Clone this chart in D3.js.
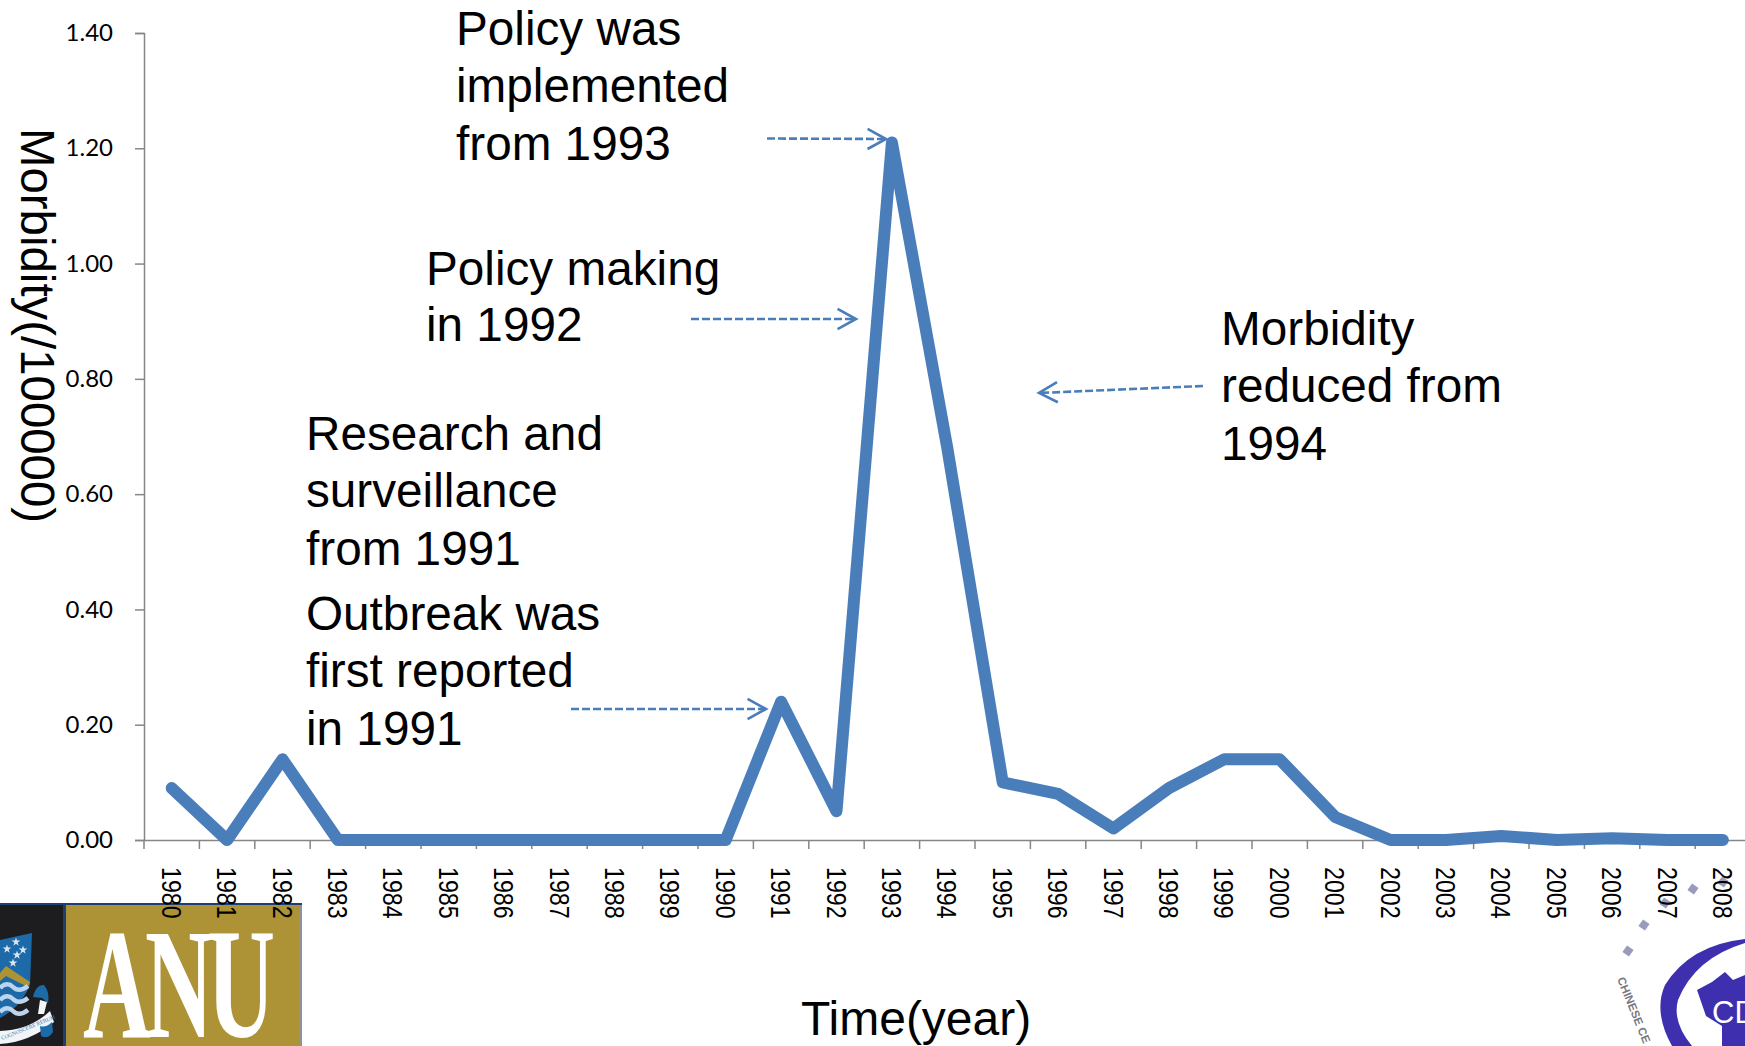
<!DOCTYPE html>
<html>
<head>
<meta charset="utf-8">
<script src="https://cdn.jsdelivr.net/npm/d3@7"></script>
<style>
  html, body { margin: 0; padding: 0; background: #fff; overflow: hidden; }
  svg { display: block; }
  text { fill: #000; }
  .note { font-family: "Liberation Sans", Arial, sans-serif; font-size: 47.7px; }
</style>
</head>
<body>
<div id="viz"></div>
<script>
var years = ["1980","1981","1982","1983","1984","1985","1986","1987","1988","1989","1990","1991","1992","1993","1994","1995","1996","1997","1998","1999","2000","2001","2002","2003","2004","2005","2006","2007","2008"];
var morbidity = [0.09,0,0.14,0,0,0,0,0,0,0,0,0.24,0.05,1.21,0.68,0.10,0.08,0.02,0.09,0.14,0.14,0.04,0,0,0.007,0,0.003,0,0];
var yTicks = [0,0.2,0.4,0.6,0.8,1.0,1.2,1.4];
var noteLines = [
    ["Policy was","implemented","from 1993"],
    ["Policy making","in 1992"],
    ["Research and","surveillance","from 1991"],
    ["Outbreak was","first reported","in 1991"],
    ["Morbidity","reduced from","1994"]
];

var width = 1745, height = 1046,
    blue = "#4a7ebb",
    gray = "#868686";

var svg = d3.select("#viz").append("svg")
    .attr("width", width)
    .attr("height", height);

// logos sit under the chart, year labels run over them
drawAnu(svg.append("g"));
drawCdc(svg.append("g"));

var x = d3.scaleBand().domain(years).range([144, 144 + 29 * 55.4]);
var y = d3.scaleLinear().domain([0, 1.4]).range([840, 33]);

var yAxis = d3.axisLeft(y).tickValues(yTicks).tickSize(9).tickPadding(22).tickSizeOuter(9)
    .tickFormat(d3.format(".2f"));
var xAxis = d3.axisBottom(x).tickSize(9).tickSizeOuter(0);

var yG = svg.append("g").attr("transform", "translate(144,0)").call(yAxis);
yG.selectAll("path,line").attr("stroke", gray).attr("stroke-width", 1.5);
yG.selectAll("text")
    .style("font-family", "Lato, sans-serif")
    .style("font-size", "24px")
    .style("fill", "#000");

var xG = svg.append("g").attr("transform", "translate(0,840)").call(xAxis);
xG.selectAll("path,line").attr("stroke", gray).attr("stroke-width", 1.5);
// ticks go between the years, like the spreadsheet chart
xG.selectAll(".tick line").attr("x1", -x.step() / 2).attr("x2", -x.step() / 2);
xG.selectAll(".tick text")
    .attr("text-anchor", "start")
    .attr("dy", null)
    .attr("y", null)
    .attr("transform", "translate(-10,27) rotate(90) scale(1,1.18)")
    .style("font-family", "'Liberation Sans', Arial, sans-serif")
    .style("font-size", "23.2px")
    .style("fill", "#000");

var line = d3.line()
    .x(function(d, i) { return x(years[i]) + x.bandwidth() / 2; })
    .y(function(d) { return y(d); });

svg.append("path")
    .datum(morbidity)
    .attr("d", line)
    .attr("fill", "none")
    .attr("stroke", blue)
    .attr("stroke-width", 12)
    .attr("stroke-linejoin", "round")
    .attr("stroke-linecap", "round");

// axis titles
svg.append("text").attr("class", "note")
    .attr("transform", "translate(21,128) rotate(90)")
    .style("font-size", "47.4px")
    .text("Morbidity(/100000)");
svg.append("text").attr("class", "note")
    .attr("x", 801).attr("y", 1035)
    .style("font-size", "48px")
    .text("Time(year)");

// annotations
var noteX = [456, 426, 306, 306, 1221],
    noteY = [44.5, 285, 449.5, 629.5, 344.5],
    noteGap = [57.5, 56, 57.5, 57.5, 57.5];

noteLines.forEach(function(lines, n) {
    svg.append("g").selectAll("text")
        .data(lines)
        .enter().append("text")
        .attr("class", "note")
        .attr("x", noteX[n])
        .attr("y", function(d, i) { return noteY[n] + i * noteGap[n]; })
        .text(function(d) { return d; });
});

var arrows = [
    [767, 138.5, 886, 139],
    [691, 319, 856, 319],
    [1203, 386, 1039, 393],
    [571, 709, 766, 709]
];
arrows.forEach(function(a) {
    var ang = Math.atan2(a[3] - a[1], a[2] - a[0]), len = 21, spread = 0.5;
    svg.append("line")
        .attr("x1", a[0]).attr("y1", a[1]).attr("x2", a[2]).attr("y2", a[3])
        .attr("stroke", blue).attr("stroke-width", 2.6)
        .attr("stroke-dasharray", "8,3");
    svg.append("path")
        .attr("d", "M" + (a[2] - len * Math.cos(ang - spread)) + "," + (a[3] - len * Math.sin(ang - spread))
            + "L" + a[2] + "," + a[3]
            + "L" + (a[2] - len * Math.cos(ang + spread)) + "," + (a[3] - len * Math.sin(ang + spread)))
        .attr("fill", "none")
        .attr("stroke", blue).attr("stroke-width", 2.6);
});

function drawAnu(g) {
    g.append("rect").attr("x", 0).attr("y", 903).attr("width", 302).attr("height", 143).attr("fill", "#1f3f73");
    g.append("rect").attr("x", 0).attr("y", 905).attr("width", 63).attr("height", 141).attr("fill", "#1d1d1f");
    g.append("rect").attr("x", 66).attr("y", 905).attr("width", 234).attr("height", 141).attr("fill", "#ae9236");
    g.append("rect").attr("x", 300).attr("y", 905).attr("width", 2).attr("height", 141).attr("fill", "#8d939c");
    g.append("text")
        .attr("transform", "translate(83,1037) scale(0.6,1)")
        .style("font-family", "'Liberation Serif', serif")
        .style("font-size", "157px")
        .style("font-weight", "bold")
        .style("fill", "#fff")
        .style("letter-spacing", "-10px")
        .text("ANU");

    // crest
    g.append("path").attr("d", "M0,940 L32,933 L30,985 Q20,1008 0,1018 Z").attr("fill", "#1d6aa8");
    g.append("path").attr("d", "M0,973 L6,966 L30,982 L28,987 L6,976 L0,981 Z").attr("fill", "#ae9236");
    [988, 1000, 1012].forEach(function(wy) {
        g.append("path")
            .attr("d", "M0," + wy + " Q7," + (wy - 7) + " 13," + (wy - 1) + " T28," + (wy - 2))
            .attr("fill", "none").attr("stroke", "#bcd4ee").attr("stroke-width", 4.5);
    });
    var stars = [[16,942],[7,949],[23,950],[17,955],[13,963]];
    g.selectAll("path.star").data(stars).enter().append("path")
        .attr("class", "star")
        .attr("d", d3.symbol().type(d3.symbolStar).size(24))
        .attr("transform", function(d) { return "translate(" + d[0] + "," + d[1] + ")"; })
        .attr("fill", "#d8e6f4");
    g.append("path").attr("d", "M33,997 Q36,984 44,985 Q50,992 48,1003 L42,998 Z").attr("fill", "#1d6aa8");
    g.append("path").attr("d", "M40,1000 L47,1002 L44,1014 L38,1014 Z").attr("fill", "#f2f5f8");
    g.append("path").attr("d", "M0,1031 Q30,1030 50,1011 L54,1022 Q30,1042 0,1044 Z").attr("fill", "#f2f5f8");
    g.append("path").attr("d", "M40,1026 Q46,1028 52,1022 L53,1032 Q48,1040 41,1036 Z").attr("fill", "#1d6aa8");
    g.append("text")
        .attr("transform", "translate(2,1040) rotate(-22)")
        .style("font-family", "'Liberation Serif', serif")
        .style("font-size", "5.5px")
        .style("fill", "#2f7fb8")
        .text("COGNOSCERE RERUM");
}

function drawCdc(g) {
    var purple = "#3d2fae";
    // swoosh around the map, runs off the corner of the page
    g.append("path")
        .attr("d", "M1745,939 Q1690,945 1665,985 Q1653,1012 1672,1046 L1692,1046 Q1672,1022 1678,1000 Q1695,958 1745,943 Z")
        .attr("fill", purple);
    g.append("path")
        .attr("d", "M1697,990 L1712,982 L1725,972 L1733,980 L1745,975 L1745,1046 L1722,1046 L1722,1026 L1706,1016 Z")
        .attr("fill", purple);
    g.append("text")
        .attr("x", 1712).attr("y", 1023)
        .style("font-family", "'Liberation Sans', Arial, sans-serif")
        .style("font-size", "31px")
        .style("fill", "#fff")
        .text("CD");
    g.append("text")
        .attr("transform", "translate(1617,979) rotate(68)")
        .style("font-family", "'Liberation Sans', Arial, sans-serif")
        .style("font-size", "11.5px")
        .style("font-weight", "bold")
        .style("fill", "#77787f")
        .text("CHINESE CE");
    var glyphs = [[1693,889],[1644,925],[1628,951],[1665,903],[1723,882]];
    g.selectAll("rect.seal").data(glyphs).enter().append("rect")
        .attr("class", "seal")
        .attr("x", function(d) { return d[0] - 4; })
        .attr("y", function(d) { return d[1] - 4; })
        .attr("width", 8).attr("height", 8)
        .attr("fill", "#6f6fa0")
        .attr("opacity", 0.7)
        .attr("transform", function(d) { return "rotate(35," + d[0] + "," + d[1] + ")"; });
}
</script>
</body>
</html>
